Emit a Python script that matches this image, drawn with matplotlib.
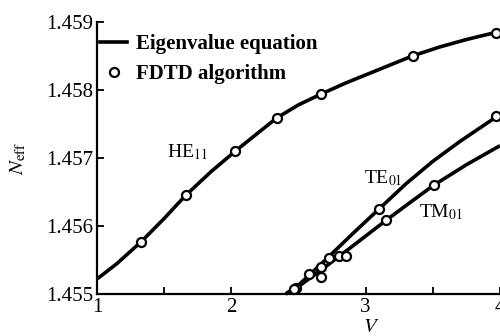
import matplotlib
matplotlib.use("Agg")
import matplotlib.pyplot as plt
from matplotlib.lines import Line2D

plt.rcParams['font.family'] = ['Liberation Serif', 'DejaVu Serif']
plt.rcParams['mathtext.fontset'] = 'stix'

# Eigenvalue-equation curves
he11_V = [1.0, 1.15, 1.33, 1.5, 1.66, 1.85, 2.03, 2.2, 2.34, 2.5, 2.67, 2.85, 3.0, 3.2, 3.35, 3.55, 3.75, 4.0]
he11_N = [1.45522, 1.45545, 1.45577, 1.45611, 1.45645, 1.45680, 1.45710, 1.45737, 1.45759, 1.45778,
          1.45794, 1.45810, 1.45822, 1.45838, 1.45850, 1.45863, 1.45874, 1.45886]
te01_V = [2.405, 2.5, 2.7, 2.9, 3.1, 3.3, 3.5, 3.7, 4.0]
te01_N = [1.4550, 1.45513, 1.45550, 1.45588, 1.45625, 1.45662, 1.45695, 1.45724, 1.45764]
tm01_V = [2.405, 2.5, 2.7, 2.9, 3.15, 3.3, 3.5, 3.75, 4.0]
tm01_N = [1.4550, 1.45511, 1.45540, 1.45570, 1.45608, 1.45630, 1.45659, 1.45690, 1.45718]

# FDTD points
he11_fV = [1.33, 1.66, 2.03, 2.34, 2.67, 3.35, 3.97]
he11_fN = [1.455765, 1.45646, 1.45710, 1.457588, 1.457941, 1.45850, 1.458838]
te01_fV = [2.48, 2.58, 2.67, 2.73, 2.80, 3.10, 3.97]
te01_fN = [1.45509, 1.4553, 1.4554, 1.45553, 1.45556, 1.45625, 1.45762]
tm01_fV = [2.47, 2.67, 2.85, 3.15, 3.51]
tm01_fN = [1.45507, 1.45525, 1.45556, 1.45609, 1.4566]

fig = plt.figure(figsize=(5.0, 3.36), dpi=100)
ax = fig.add_axes([0.194, 0.125, 0.806, 0.81])

lw = 2.6
for V, N in [(he11_V, he11_N), (te01_V, te01_N), (tm01_V, tm01_N)]:
    ax.plot(V, N, color='black', lw=lw, solid_capstyle='butt', clip_on=False, zorder=2)
for V, N in [(he11_fV, he11_fN), (te01_fV, te01_fN), (tm01_fV, tm01_fN)]:
    ax.plot(V, N, 'o', ms=6.5, mfc='white', mec='black', mew=1.6, clip_on=False, zorder=3)

ax.set_xlim(1, 4)
ax.set_ylim(1.455, 1.459)
ax.set_xticks([1, 1.5, 2, 2.5, 3, 3.5, 4])
ax.set_xticklabels(['1', '', '2', '', '3', '', '4'])
ax.set_yticks([1.455, 1.456, 1.457, 1.458, 1.459])
ax.set_yticklabels(['1.455', '1.456', '1.457', '1.458', '1.459'])
ax.tick_params(direction='in', length=5, width=1.3, labelsize=15, pad=3)
ax.tick_params(axis='x', pad=3)
for s in ['top', 'right']:
    ax.spines[s].set_visible(False)
for s in ['left', 'bottom']:
    ax.spines[s].set_linewidth(1.6)

ax.set_xlabel('$V$', fontsize=15, labelpad=0)
ax.xaxis.set_label_coords(0.68, -0.088)
ax.set_ylabel(r'$N_{\rm eff}$', fontsize=15)
ax.yaxis.set_label_coords(-0.17, 0.50)

ax.text(1.67, 1.45709, 'HE$_{11}$', fontsize=14, ha='center', va='center')
ax.text(3.13, 1.45671, 'TE$_{01}$', fontsize=14, ha='center', va='center')
ax.text(3.56, 1.45621, 'TM$_{01}$', fontsize=14, ha='center', va='center')

handles = [Line2D([], [], color='black', lw=lw),
           Line2D([], [], ls='none', marker='o', ms=6.5, mfc='white', mec='black', mew=1.6)]
leg = ax.legend(handles, ['Eigenvalue equation', 'FDTD algorithm'], loc='upper left',
                bbox_to_anchor=(0.0, 0.965), frameon=False, handlelength=1.3, handletextpad=0.4,
                borderaxespad=0.0, borderpad=0.15, labelspacing=0.45,
                prop={'size': 15, 'weight': 'bold'})

fig.savefig('out.png', dpi=100)
